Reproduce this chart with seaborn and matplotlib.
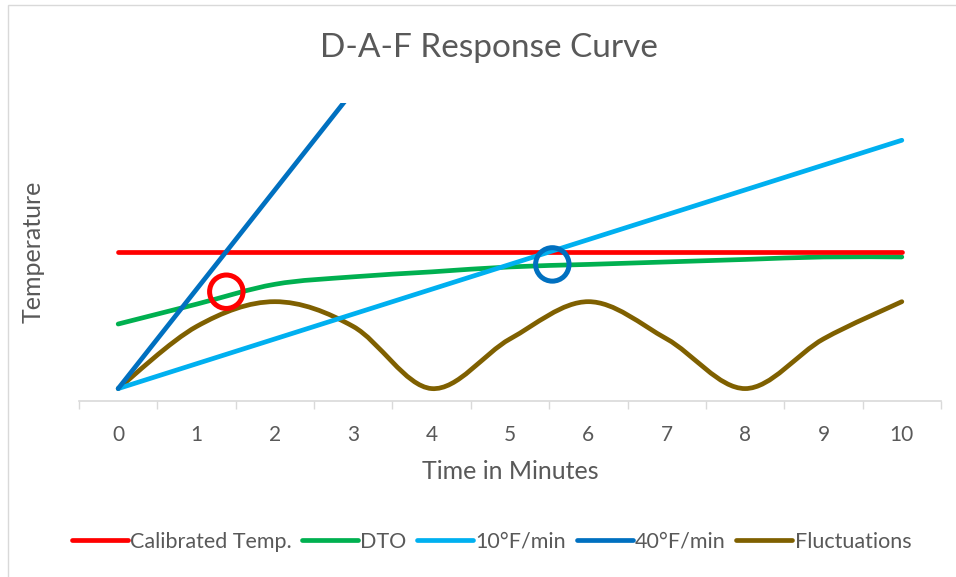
import numpy as np
import pandas as pd
import matplotlib
matplotlib.use("Agg")
import matplotlib.pyplot as plt
import seaborn as sns
from matplotlib.path import Path
from matplotlib.patches import PathPatch, Rectangle
from matplotlib.lines import Line2D

# data (temperature units are arbitrary, axis has no labels)
minutes = [0, 1, 2, 3, 4, 5, 6, 7, 8, 9, 10]
calibrated = [60, 60, 60, 60, 60, 60, 60, 60, 60, 60, 60]
dto = [31, 39, 47, 50, 52, 54, 55, 56, 57, 58, 58]
rate_10 = [5, 15, 25, 35, 45, 55, 65, 75, 85, 95, 105]
rate_40 = [5, 45, 85, 125, 165, 205, 245, 285, 325, 365, 405]
fluctuations = [5, 30, 40, 30, 5, 25, 40, 25, 5, 25, 40]
# hollow circles marking the crossing points
mark_x = [1.38, 5.54]
mark_y = [44, 55]

names = ["Calibrated Temp.", "DTO", "10°F/min", "40°F/min", "Fluctuations"]
colors = ["#FF0000", "#00B050", "#00B0F0", "#0070C0", "#7F6000"]
smooth = [False, True, False, False, True]
series = [calibrated, dto, rate_10, rate_40, fluctuations]

sns.set_theme(style="white")
plt.rcParams["font.family"] = ["Lato", "DejaVu Sans"]
text_col = "#595959"
lw = 3.4


def smooth_path(xs, ys):
    # excel style smoothed line: cubic bezier through every point
    p = np.column_stack([xs, ys]).astype(float)
    pts = np.vstack([p[0], p, p[-1]])
    verts = [p[0]]
    codes = [Path.MOVETO]
    for i in range(1, len(pts) - 2):
        c1 = pts[i] + (pts[i + 1] - pts[i - 1]) / 6
        c2 = pts[i + 1] - (pts[i + 2] - pts[i]) / 6
        verts += [c1, c2, pts[i + 1]]
        codes += [Path.CURVE4] * 3
    return Path(verts, codes)


fig = plt.figure(figsize=(9.56, 5.77), dpi=100)
ax = fig.add_axes([79 / 956, 1 - 401 / 577, 862 / 956, 298 / 577])

for name, col, sm, vals in zip(names, colors, smooth, series):
    if sm:
        ax.add_patch(PathPatch(smooth_path(minutes, vals), fill=False,
                               edgecolor=col, lw=lw, capstyle="round",
                               joinstyle="round"))
    else:
        df = pd.DataFrame({"t": minutes, "v": vals})
        sns.lineplot(data=df, x="t", y="v", color=col, lw=lw, ax=ax,
                     solid_capstyle="round")

ax.scatter(mark_x[:1], mark_y[:1], s=580, facecolors="none",
           edgecolors="#FF0000", linewidths=3.6, zorder=5)
ax.scatter(mark_x[1:], mark_y[1:], s=580, facecolors="none",
           edgecolors="#0070C0", linewidths=3.6, zorder=5)

ax.set_xlim(-0.5, 10.5)
ax.set_ylim(0, 120)
ax.set_yticks([])
ax.set_xticks(minutes)
ax.set_xticks(np.arange(-0.5, 11, 1), minor=True)
ax.tick_params(axis="x", which="major", length=0, pad=17, labelsize=15,
               labelcolor=text_col)
ax.tick_params(axis="x", which="minor", length=6, width=1, color="#D9D9D9",
               direction="out", bottom=True)
for s in ["top", "right", "left"]:
    ax.spines[s].set_visible(False)
ax.spines["bottom"].set_color("#D9D9D9")
ax.spines["bottom"].set_linewidth(1.2)

ax.set_xlabel("Time in Minutes", fontsize=18, color=text_col, labelpad=11)
ax.set_ylabel("Temperature", fontsize=18, color=text_col)
ax.yaxis.set_label_coords(-0.04, 0.5)

fig.text(0.511, 1 - 48 / 577, "D-A-F Response Curve", ha="center",
         va="center", fontsize=24, color=text_col)

handles = [Line2D([0], [0], color=c, lw=lw, solid_capstyle="round")
           for c in colors]
fig.legend(handles, names, loc="center", bbox_to_anchor=(0.514, 1 - 542 / 577),
           ncol=5, frameon=False, fontsize=15.5, handlelength=2.6,
           handletextpad=0.1, columnspacing=0.5, labelcolor=text_col)

fig.patches.append(Rectangle((8 / 956, -0.1), 2, 1.1 - 5 / 577,
                             transform=fig.transFigure, fill=False,
                             edgecolor="#D9D9D9", lw=1))

fig.savefig("out.png", dpi=100)
